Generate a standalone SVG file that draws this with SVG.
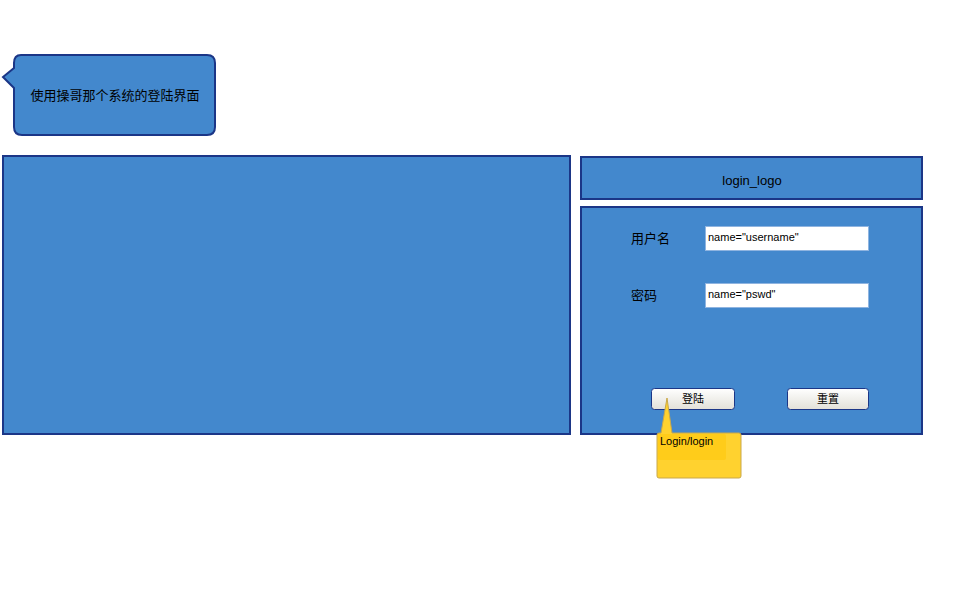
<svg xmlns="http://www.w3.org/2000/svg" width="960" height="600" viewBox="0 0 960 600">
<defs>
<linearGradient id="btn" x1="0" y1="0" x2="0" y2="1">
<stop offset="0" stop-color="#ffffff"/>
<stop offset="1" stop-color="#e2e0d8"/>
</linearGradient>
<style>
.panel{fill:#4388CD;stroke:#1B3687;stroke-width:2}
.t{font-family:"Liberation Sans","Noto Sans CJK SC",sans-serif;fill:#000}
.inp{fill:#fff;stroke:#8FB4E0;stroke-width:1}
.btn{fill:url(#btn);stroke:#1B3687;stroke-width:1}
</style>
</defs>
<rect width="960" height="600" fill="#fff"/>
<g id="callout">
<path class="panel" d="M21,55 H207 Q215,55 215,63 V127 Q215,135 207,135 H22 Q14,135 14,127 V88 L3,77 L14,68 V63 Q14,55 21,55 Z"/>
<text class="t" x="115" y="100" font-size="13" text-anchor="middle">使用操哥那个系统的登陆界面</text>
</g>
<g id="left-panel">
<rect class="panel" x="3" y="156" width="567" height="278"/>
</g>
<g id="logo">
<rect class="panel" x="581" y="157" width="341" height="42"/>
<text class="t" x="752" y="185" font-size="13" text-anchor="middle">login_logo</text>
</g>
<g id="form">
<rect class="panel" x="581" y="207" width="341" height="227"/>
<text class="t" x="631" y="243" font-size="13">用户名</text>
<text class="t" x="631" y="300" font-size="13">密码</text>
</g>
<g id="username">
<rect class="inp" x="705.500" y="226.500" width="163" height="24"/>
<text class="t" x="708" y="241" font-size="11">name="username"</text>
</g>
<g id="pswd">
<rect class="inp" x="705.500" y="283.500" width="163" height="24"/>
<text class="t" x="708" y="298" font-size="11">name="pswd"</text>
</g>
<g id="login-btn">
<rect class="btn" x="651.500" y="388.500" width="83" height="21" rx="3"/>
<text class="t" x="693" y="403" font-size="11" text-anchor="middle">登陆</text>
</g>
<g id="reset-btn">
<rect class="btn" x="787.500" y="388.500" width="81" height="21" rx="3"/>
<text class="t" x="828" y="403" font-size="11" text-anchor="middle">重置</text>
</g>
<g id="note">
<path d="M667,398 L672,433 H739 Q741,433 741,435 V476 Q741,478 739,478 H659 Q657,478 657,476 V435 Q657,433 659,433 H661 Z" fill="#FFD22F" stroke="#C9A84A" stroke-width="1"/>
<rect x="658" y="434" width="68" height="26" rx="2" fill="#FFCC1A"/>
<text class="t" x="660" y="445" font-size="11">Login/login</text>
</g>
</svg>
